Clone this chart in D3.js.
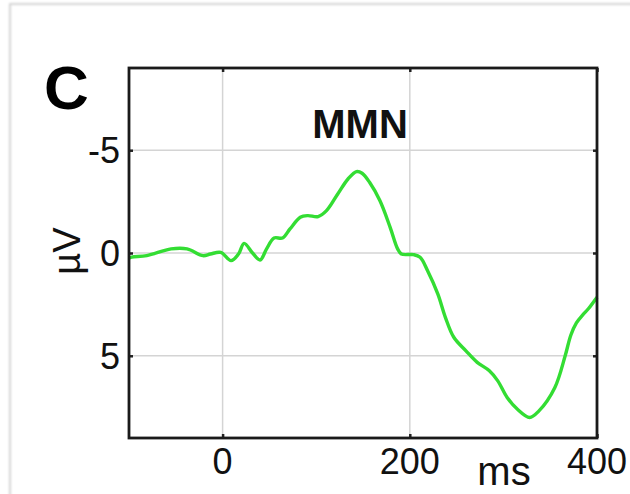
<!DOCTYPE html>
<html><head><meta charset="utf-8">
<script src="https://cdn.jsdelivr.net/npm/d3@7"></script>
<style>html,body{margin:0;padding:0;background:#fff;}svg{display:block;font-family:"Liberation Sans",Arial,sans-serif;}</style>
</head><body>
<svg id="chart" width="630" height="494"></svg>
<script>
const timesMs = [-100,-97,-81,-55,-38,-21,-13,-2,9,17,23,32,40,47,55,64,72,83,91,102,111,123,134,143,149,157,168,179,187,191,204,211,219,230,238,247,260,272,285,294,304,315,328,338,355,366,372,378,385,391,400];
const amplitudeUV = [0.25,0.2,0.13,-0.2,-0.2,0.13,0.05,-0.03,0.37,0.05,-0.47,0,0.34,-0.2,-0.73,-0.73,-1.17,-1.74,-1.82,-1.77,-2.06,-2.87,-3.6,-3.96,-3.88,-3.44,-2.55,-1.25,-0.2,0.05,0.08,0.21,0.86,2.0,3.13,4.1,4.76,5.32,5.73,6.22,7.03,7.6,8.0,7.68,6.54,5.0,4.0,3.4,3.0,2.7,2.15];
const xTicks = [0,200,400];
const yTicks = [-5,0,5];
const xGrid = [0,200];
const title = "MMN";
const panelLabel = "C";
const xLabel = "ms";
const yLabel = "µV";

const svg = d3.select("#chart");
const L=129,R=597,T=68,B=438;
const x = d3.scaleLinear().domain([-100,400]).range([L,R]);
const y = d3.scaleLinear().domain([-9,9]).range([T,B]);

// frame shadow
const defs = svg.append("defs");
const f = defs.append("filter").attr("id","blur").attr("x","-5%").attr("y","-5%").attr("width","110%").attr("height","110%");
f.append("feGaussianBlur").attr("stdDeviation",1.2);
svg.append("rect").attr("x",10).attr("y",4).attr("width",640).attr("height",520)
  .attr("fill","none").attr("stroke","#c8c8c8").attr("stroke-width",1.5).attr("filter","url(#blur)");

// grid
svg.append("g").selectAll("line").data(xGrid).join("line")
  .attr("x1",d=>x(d)).attr("x2",d=>x(d)).attr("y1",T).attr("y2",B)
  .attr("stroke","#d4d4d4").attr("stroke-width",1.5);
svg.append("g").selectAll("line").data(yTicks).join("line")
  .attr("x1",L).attr("x2",R).attr("y1",d=>y(d)).attr("y2",d=>y(d))
  .attr("stroke","#d4d4d4").attr("stroke-width",1.5);

// axes
const axStyle = g => { g.select(".domain").remove(); g.selectAll("line").attr("stroke","#222").attr("stroke-width",2.5); g.selectAll("text").remove(); };
svg.append("g").attr("transform",`translate(0,${B})`).call(d3.axisBottom(x).tickValues(xTicks).tickSize(-4)).call(axStyle);
svg.append("g").attr("transform",`translate(0,${T})`).call(d3.axisTop(x).tickValues(xTicks).tickSize(-4)).call(axStyle);
svg.append("g").attr("transform",`translate(${L},0)`).call(d3.axisLeft(y).tickValues(yTicks).tickSize(-4)).call(axStyle);
svg.append("g").attr("transform",`translate(${R},0)`).call(d3.axisRight(y).tickValues(yTicks).tickSize(-4)).call(axStyle);

// data line
const line = d3.line().x((d,i)=>x(timesMs[i])).y(d=>y(d)).curve(d3.curveCatmullRom.alpha(0.5));
svg.append("path").datum(amplitudeUV).attr("d",line).attr("fill","none")
  .attr("stroke","#33dd33").attr("stroke-width",3.4).attr("stroke-linejoin","round");

// box
svg.append("rect").attr("x",L).attr("y",T).attr("width",R-L).attr("height",B-T)
  .attr("fill","none").attr("stroke","#1a1a1a").attr("stroke-width",2.8);

// tick labels
svg.append("g").selectAll("text").data(xTicks).join("text")
  .attr("x",d=>x(d)).attr("y",474).attr("text-anchor","middle")
  .attr("font-size",36).attr("fill","#111").text(d=>d);
svg.append("g").selectAll("text").data(yTicks).join("text")
  .attr("x",120).attr("y",d=>y(d)+13).attr("text-anchor","end")
  .attr("font-size",36).attr("fill","#111").text(d=>d);

svg.append("text").attr("x",504).attr("y",485).attr("text-anchor","middle").attr("font-size",40).attr("fill","#111").text(xLabel);
svg.append("text").attr("transform","translate(80,251) rotate(-90)").attr("text-anchor","middle").attr("font-size",38).attr("fill","#111").text(yLabel);
svg.append("text").attr("x",360).attr("y",138).attr("text-anchor","middle").attr("font-size",40).attr("font-weight","bold").attr("fill","#111").text(title);
svg.append("text").attr("x",44).attr("y",109).attr("font-size",62).attr("font-weight","bold").attr("fill","#000").text(panelLabel);
</script>
</body></html>
